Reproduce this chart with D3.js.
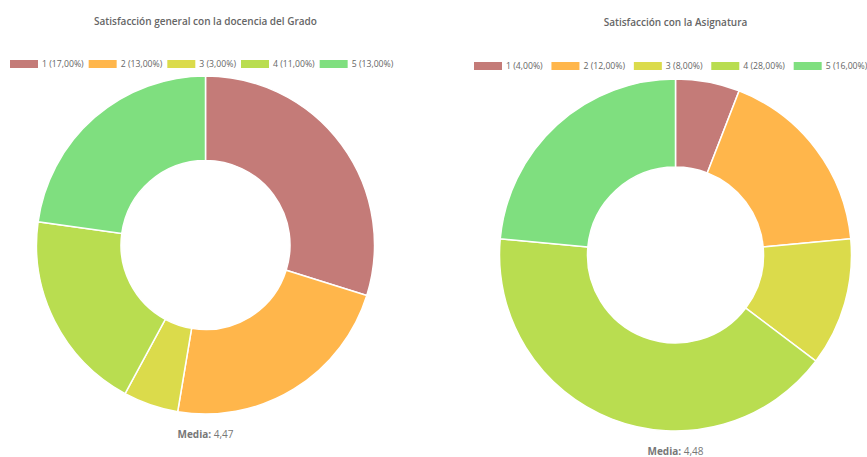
<!DOCTYPE html>
<html>
<head>
<meta charset="utf-8">
<script src="https://cdn.jsdelivr.net/npm/d3@7"></script>
<style>
  body { margin: 0; background: #fff; font-family: "Open Sans", sans-serif; }
  svg { display: block; }
</style>
</head>
<body>
<div id="chart"></div>
<script>
// Categories (answer values 1..5) and their colours
const categories = ["1", "2", "3", "4", "5"];
const colors = ["#c47b78", "#ffb64b", "#dbdb4b", "#b9dd50", "#7fdf7f"];

// Left chart: satisfaction with the degree teaching
const gradoTitle = "Satisfacción general con la docencia del Grado";
const gradoValues = [17, 13, 3, 11, 13];
const gradoLabels = ["17,00%", "13,00%", "3,00%", "11,00%", "13,00%"];
const gradoMedia = "4,47";

// Right chart: satisfaction with the subject
const asigTitle = "Satisfacción con la Asignatura";
const asigValues = [4, 12, 8, 28, 16];
const asigLabels = ["4,00%", "12,00%", "8,00%", "28,00%", "16,00%"];
const asigMedia = "4,48";

const W = 867, H = 457;

const svg = d3.select("#chart")
    .append("svg")
    .attr("width", W)
    .attr("height", H)
    .attr("viewBox", `0 0 ${W} ${H}`);

/**
 * Draws one doughnut with its title, legend and mean text
 */
function drawDoughnut(opts) {
    const g = svg.append("g");

    // Title
    g.append("text")
        .attr("x", opts.cx)
        .attr("y", opts.titleY)
        .attr("text-anchor", "middle")
        .style("font-size", "10px")
        .style("font-weight", "600")
        .style("fill", "#666")
        .text(opts.title);

    // Legend: one row of colour boxes with labels
    const legend = g.append("g")
        .attr("transform", `translate(${opts.legendX0},${opts.legendY})`);
    const boxW = 28, boxH = 8, gapText = 4;
    let x = 0;
    categories.forEach((c, i) => {
        const item = legend.append("g").attr("transform", `translate(${x},0)`);
        item.append("rect")
            .attr("x", 0)
            .attr("y", -boxH / 2)
            .attr("width", boxW)
            .attr("height", boxH)
            .style("fill", colors[i]);
        const t = item.append("text")
            .attr("x", boxW + gapText)
            .attr("y", 0)
            .attr("dy", "0.35em")
            .style("font-size", "8.7px")
            .style("fill", "#666")
            .text(`${c} (${opts.labels[i]})`);
        x += boxW + gapText + t.node().getComputedTextLength() + opts.gapItem;
    });

    // Pie
    const pie = d3.pie().sort(null).value(d => d);
    const arc = d3.arc()
        .innerRadius(opts.r * 0.5)
        .outerRadius(opts.r);

    g.append("g")
        .attr("transform", `translate(${opts.cx},${opts.cy})`)
        .selectAll("path")
        .data(pie(opts.values))
        .join("path")
        .attr("d", arc)
        .style("fill", (d, i) => colors[i])
        .style("stroke", "#fff")
        .style("stroke-width", 1.5);

    // Mean
    const m = g.append("text")
        .attr("x", opts.cx)
        .attr("y", opts.mediaY)
        .attr("text-anchor", "middle")
        .style("font-size", "10px")
        .style("fill", "#777");
    m.append("tspan").style("font-weight", "bold").text("Media:");
    m.append("tspan").text(" " + opts.media);
}

drawDoughnut({
    title: gradoTitle, values: gradoValues, labels: gradoLabels, media: gradoMedia,
    cx: 205.5, cy: 245, r: 169,
    titleY: 25, legendY: 64, legendX0: 10, gapItem: 5, mediaY: 438
});

drawDoughnut({
    title: asigTitle, values: asigValues, labels: asigLabels, media: asigMedia,
    cx: 675.5, cy: 255, r: 176,
    titleY: 26, legendY: 66, legendX0: 474, gapItem: 8.75, mediaY: 455
});
</script>
</body>
</html>
